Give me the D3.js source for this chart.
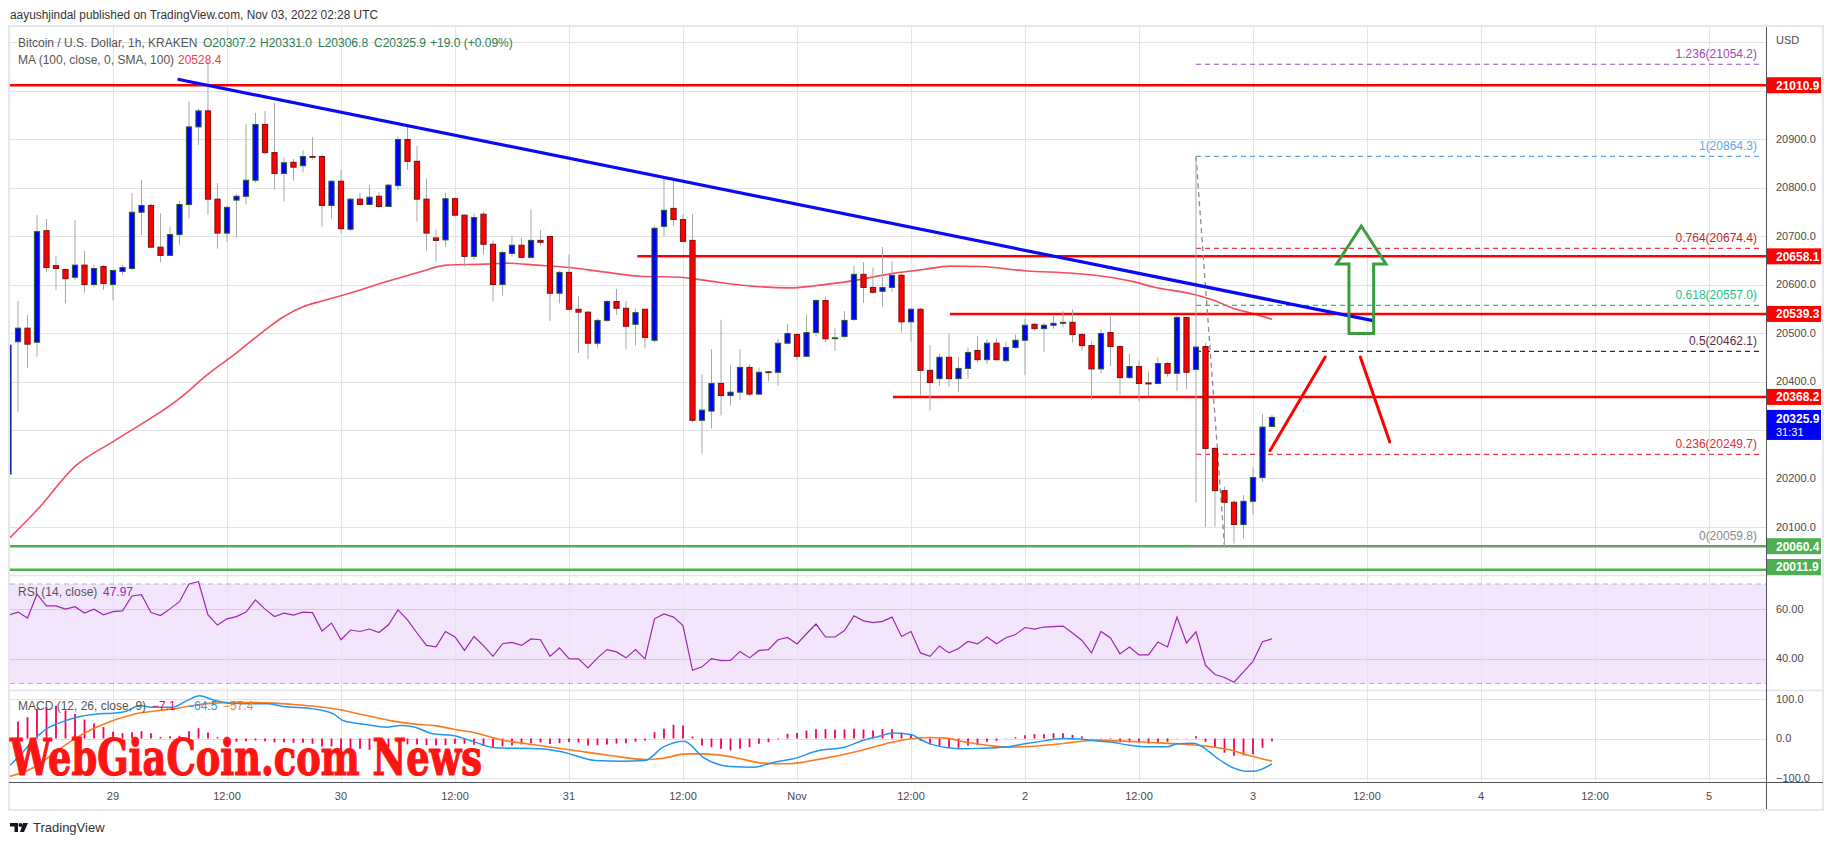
<!DOCTYPE html>
<html><head><meta charset="utf-8">
<script src="https://cdn.jsdelivr.net/npm/d3@7"></script>
<style>body{margin:0;background:#fff;} svg{display:block;font-family:'Liberation Sans',Arial,sans-serif;}</style>
</head><body><svg id="c" width="1834" height="845"></svg>
<script>
// ---------- DATA ----------
const opens = [
20209,20482,20510,20481,20711,20639,20631,20615,20640,20600,
20637,20600,20627,20633,20749,20763,20677,20660,20703,20765,
20925,20958,20776,20706,20774,20782,20815,20930,20872,20829,
20852,20845,20864,20864,20763,20813,20714,20776,20765,20782,
20761,20804,20899,20854,20776,20696,20692,20777,20743,20658,
20745,20683,20600,20664,20681,20656,20691,20699,20582,20625,
20549,20543,20479,20526,20565,20551,20518,20549,20485,20720,
20757,20734,20691,20320,20339,20396,20371,20378,20429,20374,
20420,20419,20479,20497,20452,20501,20567,20489,20493,20528,
20621,20594,20586,20594,20619,20523,20549,20423,20406,20450,
20406,20427,20464,20445,20479,20443,20470,20485,20518,20509,
20516,20520,20522,20497,20474,20426,20501,20472,20408,20431,
20397,20396,20437,20417,20532,20425,20472,20262,20175,20151,
20105,20153,20202,20307.2];
const highs = [
20482,20566,20537,20743,20735,20659,20633,20733,20669,20640,
20640,20629,20640,20789,20815,20767,20747,20719,20772,20978,
20963,21060,20809,20762,20787,20931,20954,20958,20975,20862,
20859,20877,20904,20869,20815,20836,20778,20789,20805,20791,
20808,20905,20929,20886,20819,20714,20789,20780,20745,20747,
20750,20690,20670,20700,20697,20755,20712,20700,20628,20662,
20576,20545,20530,20568,20591,20566,20550,20550,20721,20819,
20814,20745,20745,20415,20467,20527,20434,20467,20435,20429,
20422,20488,20519,20500,20538,20570,20574,20510,20545,20639,
20646,20635,20677,20648,20622,20552,20552,20475,20457,20499,
20451,20470,20494,20487,20489,20482,20497,20530,20521,20520,
20535,20545,20549,20500,20483,20508,20534,20475,20457,20443,
20421,20450,20440,20536,20534,20864.3,20480,20265,20183,20155,
20166,20223,20333,20331.0];
const lows = [
20195,20338,20428,20451,20625,20589,20561,20610,20583,20595,
20589,20567,20620,20630,20702,20675,20646,20658,20682,20736,
20888,20744,20674,20688,20697,20765,20810,20868,20796,20771,
20814,20831,20858,20719,20736,20705,20710,20762,20763,20758,
20760,20795,20836,20730,20670,20647,20678,20740,20637,20652,
20662,20565,20577,20657,20654,20654,20680,20525,20561,20548,
20459,20446,20470,20523,20537,20466,20474,20468,20480,20700,
20721,20687,20316,20251,20303,20330,20350,20362,20370,20372,
20400,20391,20477,20444,20450,20494,20481,20463,20490,20525,
20562,20580,20554,20585,20501,20482,20371,20340,20391,20389,
20378,20406,20440,20436,20443,20439,20468,20413,20505,20461,
20509,20512,20480,20464,20363,20417,20432,20372,20405,20360,
20370,20394,20410,20381,20384,20151,20100,20101,20059.8,20066,
20077,20125,20193,20306.8];
const closes = [
20475,20510,20477,20709,20635,20633,20612,20640,20600,20633,
20602,20629,20635,20749,20763,20677,20660,20703,20765,20925,
20958,20776,20706,20759,20782,20815,20930,20872,20829,20851,
20842,20864,20863,20763,20813,20715,20776,20765,20780,20761,
20805,20899,20854,20776,20706,20691,20777,20743,20658,20738,
20683,20600,20666,20681,20656,20691,20687,20582,20625,20549,
20543,20479,20526,20565,20551,20514,20542,20491,20716,20753,
20734,20689,20320,20341,20396,20371,20378,20429,20374,20419,
20419,20479,20499,20452,20501,20567,20488,20490,20526,20621,
20594,20584,20594,20619,20523,20549,20423,20398,20450,20406,
20427,20460,20445,20479,20445,20470,20485,20516,20509,20516,
20520,20522,20497,20474,20426,20499,20472,20408,20431,20396,
20395,20437,20417,20532,20419,20471,20262,20175,20151,20105,
20153,20202,20306,20325.9];

// MA(100) sampled along the curve: candle index -> value
const maIdx = [0,3,7,11,18,21,24,26.8,29,31,32.8,35.9,39.8,43.3,46.1,50.3,52.4,55.6,59.1,62.6,66.5,70.7,73.5,77,82.3,84.7,88.9,93.1,96.3,99.1,102.3,107.2,112.1,116.3,118.4,120.5,124.7,126.8,128.9,131,133];
const maVal = [20075,20135,20225,20276,20365,20415,20459,20503,20534,20554,20565,20582,20606,20626,20640,20642,20644,20640,20635,20626,20617,20615,20608,20599,20593,20597,20608,20623,20631,20638,20637,20628,20623,20614,20606,20595,20580,20568,20551,20540,20528.4];

const rsi = [
57.5,58.7,56.3,65.9,61.2,61.2,59.9,60.9,58.3,59.9,
57.6,58.9,59.2,65.2,65.7,58.5,57.3,60.0,62.9,70.0,
70.9,57.6,53.5,56.0,56.9,58.7,63.6,59.9,56.9,58.3,
57.5,58.7,58.5,51.1,54.3,47.6,51.5,50.9,51.9,50.5,
53.6,59.6,55.6,50.3,45.3,44.7,50.9,48.7,43.3,48.9,
45.2,40.9,46.0,46.5,45.3,47.9,47.6,40.9,44.3,40.0,
39.9,36.3,40.3,43.6,42.7,40.3,43.6,39.9,56.0,58.0,
56.7,53.3,35.3,36.7,40.0,39.2,39.3,42.9,40.3,43.3,
43.6,47.6,48.5,45.9,50.0,53.9,48.7,48.7,51.3,57.2,
55.2,54.5,55.0,56.7,48.9,50.9,42.3,40.9,45.1,42.3,
44.1,46.9,45.9,48.7,46.0,48.4,49.7,52.5,51.9,52.7,
52.9,53.1,50.3,47.3,42.3,50.9,48.3,41.9,44.7,41.5,
41.5,46.7,44.7,56.7,46.3,50.8,37.3,33.6,32.4,30.5,
34.7,38.9,46.8,47.97];

const macdIdx = [0.16,1.2,2.6,4,5.1,7.2,9.3,11,12.4,13.8,15.2,17.3,18.8,20.1,21.5,23.3,25.8,27.2,28.9,32.1,34.2,35.2,37.7,39.8,41.2,42.6,44.7,46.8,48.6,51.3,55.9,58.4,61.8,64.6,67,68.9,71.1,73.2,76,78.5,80.6,82.5,85.3,88,89.9,91.7,93.1,95.1,96,97,99,100,102,105,107,109,111,112.7,114,116,118,120,122,123,124.7,126,127,129,130.3,131.1,133];
const macdVal = [-68,-43,-5,24.5,37,54,62,64,69,83.5,79,79,96,108,98,89.5,87.8,87.8,81,75,62.4,45.6,35.4,28.7,33,30,11.8,7.6,-5,-23.6,-26,-34.6,-55.7,-57.4,-55.7,-22,-6.8,-49,-71,-72.6,-60,-52,-30.4,-22,-5,5.9,14.2,9.3,-2.5,-13.5,-23.6,-26,-25,-21.5,-13.5,-6,0,-1,-5,-9,-17,-21,-21,-13.5,-12,-26,-45.6,-75,-83,-83,-64.5];
const sigIdx = [0.16,2.6,4.7,6.8,8.9,11,13.1,15.2,17.3,19.5,21.5,23.7,26.1,27.9,30,32.4,34.9,37.7,40.5,42.6,45,47,48.6,52.2,55.9,59.6,63.3,67,68.9,71.4,73.2,76.3,79.4,81.9,85.6,89.3,91.7,93,95,97,98.7,100.8,103.2,105.2,107.6,110,112.5,114.5,116.6,119,121.5,124.6,126.4,128.5,130.6,133];
const sigVal = [-96,-74,-39,-3.4,24.5,45.6,61,69,75,83.5,89.5,91,91,89.5,86,81,72.6,58,44,37,32,23,17,-5,-17.7,-30.4,-43,-53,-49.8,-38.8,-38.8,-47.3,-62.4,-64,-51.5,-33,-17.7,-9.3,-0.8,2.5,0.9,-9.3,-17.7,-21.9,-20.3,-15.2,-8.4,-4.2,-5.9,-8.4,-11.8,-16,-20.3,-28.7,-43,-57.4];
const hist = [
25,43,54,75,79,83,71,62,48,38,
29,17,13.5,16,18.6,13.5,4.2,5.9,6.8,18.6,
26,15.2,3.4,-1.7,-8.4,-6.8,-5,-6.8,-10,-9.3,
-11,-11,-13.5,-20,-20,-30,-28.7,-26,-28.7,-26,
-22,-9.3,-15,-15,-17,-17,-17,-13.5,-13.5,-16,
-19,-22,-20,-18,-15,-12,-10,-14,-12,-9,
-10,-18,-17,-15,-13,-12,-8,-5,16,24.5,
34.6,33,5,-17.7,-22,-26,-30,-26,-22,-13.5,
-9.3,-1.7,12,14,20,23.6,23.6,22,22.8,24.5,
22.8,20,23.6,23.6,15.2,10,-6,-15,-18.6,-22.8,
-23.6,-17.7,-16,-8.4,-5.9,-0.8,3.4,8.4,11,11,
13.5,13.5,9.3,5,0.8,0.8,1.7,-9.3,-10,-11,
-12.7,-11,-8.4,0.8,-0.8,5.9,-8.4,-22.8,-36,-43.9,
-43,-39.7,-23.6,-7.1];

// time axis (candle index of each tick; candle 0 = Oct 28 13:00 UTC)
const timeTickIdx = [11,23,35,47,59,71,83,95,107,119,131,143,155,167,179];
const timeTickLabels = ["29","12:00","30","12:00","31","12:00","Nov","12:00","2","12:00","3","12:00","4","12:00","5"];

// drawn levels
const redLevels = [21010.9, 20658.1, 20539.3, 20368.2];
const redLevelStart = [null, 66.2, 99.1, 93.1];
const greenLevels = [20060.4, 20011.9];
const lastPrice = 20325.9, countdown = "31:31";
const fibRatios = ["1.236","1","0.764","0.618","0.5","0.236","0"];
const fibPrices = [21054.2, 20864.3, 20674.4, 20557.0, 20462.1, 20249.7, 20059.8];
const fibFrom = {i:125, p:20864.3}, fibTo = {i:128, p:20059.8};
const trendLine = [{i:17.95, p:21022.8}, {i:143.5, p:20526}];
const redArrows = [[{i:132.8,p:20257.6},{i:138.6,p:20450.6}], [{i:142.3,p:20450.6},{i:145.4,p:20275.3}]];
const greenArrow = {i:142.4, tip:20720.7, headBase:20642.3, bottom:20499, headHalf:2.6, shaftHalf:1.3};
const rsiTicks = [60, 40];
const macdTicks = [100, 0, -100];

// ---------- LAYOUT ----------
const L = 10, R = 1766, mainTop = 27, mainBot = 575, rsiBot = 690, macdBot = 782, axisBot = 809;
const svg = d3.select("#c");
const x = d3.scaleLinear().domain([0.158, 185]).range([L, R]);
const y = d3.scaleLinear().domain([20001, 21131]).range([mainBot, mainTop]);
const yR = d3.scaleLinear().domain([30, 70]).range([683.5, 584]);
const yM = d3.scaleLinear().domain([-100, 100]).range([778, 699]);
const gridC = "#e2e2e2", textC = "#4a4a4a";

const defs = svg.append("defs");
[["cMain", mainTop, mainBot], ["cRsi", mainBot, rsiBot], ["cMacd", rsiBot, macdBot]].forEach(([id, t, b]) => {
  defs.append("clipPath").attr("id", id).append("rect").attr("x", L).attr("y", t).attr("width", R - L).attr("height", b - t);
});

// RSI band
svg.append("rect").attr("x", L).attr("y", yR(70)).attr("width", R - L).attr("height", yR(30) - yR(70)).attr("fill", "#f3e6fc");

// grid
const grid = svg.append("g").attr("stroke", gridC).attr("stroke-width", 1).attr("shape-rendering", "crispEdges");
y.ticks(11).forEach(v => grid.append("line").attr("x1", L).attr("x2", R).attr("y1", Math.round(y(v)) + 0.5).attr("y2", Math.round(y(v)) + 0.5));
rsiTicks.forEach(v => grid.append("line").attr("x1", L).attr("x2", R).attr("y1", Math.round(yR(v)) + 0.5).attr("y2", Math.round(yR(v)) + 0.5).attr("stroke", "#d6c9e3"));
macdTicks.forEach(v => grid.append("line").attr("x1", L).attr("x2", R).attr("y1", Math.round(yM(v)) + 0.5).attr("y2", Math.round(yM(v)) + 0.5));
timeTickIdx.forEach(i => grid.append("line").attr("x1", Math.round(x(i)) + 0.5).attr("x2", Math.round(x(i)) + 0.5).attr("y1", mainTop).attr("y2", macdBot).attr("stroke-opacity", 0.9));

// RSI dashed bounds
[70, 30].forEach(v => svg.append("line").attr("x1", L).attr("x2", R).attr("y1", yR(v)).attr("y2", yR(v)).attr("stroke", "#b0b0b8").attr("stroke-dasharray", "5,4"));

// pane separators & frame
svg.append("rect").attr("x", 9).attr("y", 26).attr("width", 1814).attr("height", 784).attr("fill", "none").attr("stroke", "#e6e7ec").attr("stroke-width", 2);
[mainBot, rsiBot].forEach(v => svg.append("line").attr("x1", 9).attr("x2", 1823).attr("y1", v + 0.5).attr("y2", v + 0.5).attr("stroke", "#e0e3eb").attr("stroke-width", 1.5));

// ---------- MAIN PANE ----------
const gM = svg.append("g").attr("clip-path", "url(#cMain)");
// MA
gM.append("path").datum(maIdx.map((d, k) => [d, maVal[k]]))
  .attr("d", d3.line().x(d => x(d[0])).y(d => y(d[1])).curve(d3.curveMonotoneX))
  .attr("fill", "none").attr("stroke", "#f23a4c").attr("stroke-width", 1.6).attr("stroke-opacity", 0.9);

// horizontal levels
redLevels.forEach((p, k) => {
  gM.append("line").attr("x1", redLevelStart[k] == null ? L : x(redLevelStart[k])).attr("x2", R)
    .attr("y1", y(p)).attr("y2", y(p)).attr("stroke", "#ff0000").attr("stroke-width", 2.5);
});
greenLevels.forEach(p => gM.append("line").attr("x1", L).attr("x2", R).attr("y1", y(p)).attr("y2", y(p)).attr("stroke", "#4caf50").attr("stroke-width", 2.5));

// fib levels
const fibColors = ["#a347ba", "#5ba9dc", "#f23645", "#26be8c", "#4e1a33", "#f23645", "#8a8a8a"];
const fibTextColors = ["#a347ba", "#5ba9dc", "#c2272d", "#26be8c", "#5d2a40", "#d83038", "#8a8a8a"];
fibPrices.forEach((p, k) => {
  gM.append("line").attr("x1", x(fibFrom.i)).attr("x2", 1763).attr("y1", y(p)).attr("y2", y(p))
    .attr("stroke", fibColors[k]).attr("stroke-width", 1.2).attr("stroke-dasharray", "5,4");
  gM.append("text").attr("x", 1757).attr("y", y(p) - 6).attr("text-anchor", "end").attr("font-size", 12)
    .attr("fill", fibTextColors[k]).text(fibRatios[k] + "(" + p.toFixed(1) + ")");
});
gM.append("line").attr("x1", x(fibFrom.i)).attr("y1", y(fibFrom.p)).attr("x2", x(fibTo.i)).attr("y2", y(fibTo.p))
  .attr("stroke", "#8a8a8a").attr("stroke-width", 1.3).attr("stroke-dasharray", "5,4");

// candles
const cg = gM.append("g");
closes.forEach((c, i) => {
  const o = opens[i], up = c >= o, cx = x(i);
  cg.append("line").attr("x1", cx).attr("x2", cx).attr("y1", y(highs[i])).attr("y2", y(lows[i])).attr("stroke", "#a8a8a8").attr("stroke-width", 1);
  const top = y(Math.max(o, c)), bot = y(Math.min(o, c));
  cg.append("rect").attr("x", cx - 2.6).attr("width", 5.2).attr("y", top).attr("height", Math.max(0.8, bot - top))
    .attr("fill", up ? "#0000ff" : "#ff0000").attr("stroke", up ? "#2b5e2b" : "#7a1010").attr("stroke-width", 1);
});

// trend line
gM.append("line").attr("x1", x(trendLine[0].i)).attr("y1", y(trendLine[0].p)).attr("x2", x(trendLine[1].i)).attr("y2", y(trendLine[1].p))
  .attr("stroke", "#0a0af5").attr("stroke-width", 3.2).attr("stroke-linecap", "round");

// red arrow strokes
redArrows.forEach(a => gM.append("line").attr("x1", x(a[0].i)).attr("y1", y(a[0].p)).attr("x2", x(a[1].i)).attr("y2", y(a[1].p))
  .attr("stroke", "#ff0000").attr("stroke-width", 3).attr("stroke-linecap", "round"));

// green hollow up-arrow
const ga = greenArrow;
const gpts = [[ga.i, ga.tip], [ga.i + ga.headHalf, ga.headBase], [ga.i + ga.shaftHalf, ga.headBase], [ga.i + ga.shaftHalf, ga.bottom],
  [ga.i - ga.shaftHalf, ga.bottom], [ga.i - ga.shaftHalf, ga.headBase], [ga.i - ga.headHalf, ga.headBase]];
gM.append("path").attr("d", "M" + gpts.map(p => x(p[0]) + "," + y(p[1])).join("L") + "Z")
  .attr("fill", "none").attr("stroke", "#3a9d40").attr("stroke-width", 3).attr("stroke-linejoin", "miter");

// ---------- RSI PANE ----------
const gR = svg.append("g").attr("clip-path", "url(#cRsi)");
gR.append("path").datum(rsi).attr("d", d3.line().x((d, i) => x(i)).y(d => yR(d)))
  .attr("fill", "none").attr("stroke", "#9c27b0").attr("stroke-width", 1.2);

// ---------- MACD PANE ----------
const gD = svg.append("g").attr("clip-path", "url(#cMacd)");
hist.forEach((h, i) => gD.append("line").attr("x1", x(i)).attr("x2", x(i)).attr("y1", yM(0)).attr("y2", yM(h))
  .attr("stroke", "#f50057").attr("stroke-width", 1.8));
gD.append("path").datum(sigIdx.map((d, k) => [d, sigVal[k]]))
  .attr("d", d3.line().x(d => x(d[0])).y(d => yM(d[1])).curve(d3.curveMonotoneX))
  .attr("fill", "none").attr("stroke", "#ff7a1a").attr("stroke-width", 1.6);
gD.append("path").datum(macdIdx.map((d, k) => [d, macdVal[k]]))
  .attr("d", d3.line().x(d => x(d[0])).y(d => yM(d[1])).curve(d3.curveMonotoneX))
  .attr("fill", "none").attr("stroke", "#2196f3").attr("stroke-width", 1.5);

// ---------- AXES ----------
svg.append("line").attr("x1", R + 0.5).attr("x2", R + 0.5).attr("y1", 27).attr("y2", axisBot).attr("stroke", "#50535e");
svg.append("line").attr("x1", 9).attr("x2", 1823).attr("y1", macdBot + 0.5).attr("y2", macdBot + 0.5).attr("stroke", "#50535e");

const ax = svg.append("g").attr("font-size", 11).attr("fill", textC);
ax.append("text").attr("x", 1776).attr("y", 40).attr("dy", "0.35em").text("USD");
const boxYs = redLevels.concat(greenLevels).map(p => y(p));
const lastTop = y(lastPrice) - 7.5;
y.ticks(11).forEach(v => {
  const yy = y(v);
  if (yy < 52 || yy > mainBot - 6) return;
  if (boxYs.some(b => Math.abs(b - yy) < 13)) return;
  if (yy > lastTop - 7 && yy < lastTop + 37) return;
  ax.append("text").attr("x", 1776).attr("y", yy).attr("dy", "0.35em").text(v.toFixed(1));
});
rsiTicks.forEach(v => ax.append("text").attr("x", 1776).attr("y", yR(v)).attr("dy", "0.35em").text(v.toFixed(2)));
macdTicks.forEach(v => ax.append("text").attr("x", 1776).attr("y", yM(v)).attr("dy", "0.35em").text((v < 0 ? "\u2212" : "") + Math.abs(v).toFixed(1)));
timeTickIdx.forEach((i, k) => ax.append("text").attr("x", x(i)).attr("y", 796).attr("dy", "0.35em").attr("text-anchor", "middle").text(timeTickLabels[k]));

function priceBox(p, color) {
  let top = y(p) - 8;
  top = Math.min(top, mainBot - 16);
  svg.append("rect").attr("x", R + 1).attr("y", top).attr("width", 54).attr("height", 16).attr("fill", color);
  svg.append("text").attr("x", 1776).attr("y", top + 8).attr("dy", "0.36em").attr("font-size", 12).attr("font-weight", "bold").attr("fill", "#fff").text(p.toFixed(1));
}
redLevels.forEach(p => priceBox(p, "#ff0000"));
greenLevels.forEach(p => priceBox(p, "#4caf50"));
svg.append("rect").attr("x", R + 1).attr("y", lastTop).attr("width", 54).attr("height", 30).attr("fill", "#0000ff");
svg.append("text").attr("x", 1776).attr("y", lastTop + 8.5).attr("dy", "0.36em").attr("font-size", 12).attr("font-weight", "bold").attr("fill", "#fff").text(lastPrice.toFixed(1));
svg.append("text").attr("x", 1776).attr("y", lastTop + 22).attr("dy", "0.36em").attr("font-size", 11).attr("fill", "#fff").text(countdown);

// ---------- LEGENDS ----------
svg.append("text").attr("x", 10).attr("y", 19).attr("font-size", 12.5).attr("fill", "#333").attr("textLength", 368).attr("lengthAdjust", "spacingAndGlyphs")
  .text("aayushjindal published on TradingView.com, Nov 03, 2022 02:28 UTC");
const lg = svg.append("g").attr("font-size", 12);
const gray = "#555", grn = "#2e7d4f";
[["Bitcoin / U.S. Dollar, 1h, KRAKEN", 18, gray], ["O20307.2", 203, grn], ["H20331.0", 260, grn], ["L20306.8", 318, grn], ["C20325.9", 374, grn], ["+19.0 (+0.09%)", 430, grn]]
  .forEach(([t, xx, c]) => lg.append("text").attr("x", xx).attr("y", 47).attr("fill", c).text(t));
lg.append("text").attr("x", 18).attr("y", 64).attr("fill", gray).text("MA (100, close, 0, SMA, 100)");
lg.append("text").attr("x", 178).attr("y", 64).attr("fill", "#f23645").text("20528.4");
lg.append("text").attr("x", 18).attr("y", 596).attr("fill", gray).text("RSI (14, close)");
lg.append("text").attr("x", 103).attr("y", 596).attr("fill", "#9c27b0").text("47.97");
lg.append("text").attr("x", 18).attr("y", 710).attr("fill", gray).text("MACD (12, 26, close, 9)");
lg.append("text").attr("x", 152).attr("y", 710).attr("fill", "#f50057").text("\u22127.1");
lg.append("text").attr("x", 187).attr("y", 710).attr("fill", "#2196f3").text("\u221264.5");
lg.append("text").attr("x", 223).attr("y", 710).attr("fill", "#ff7a1a").text("\u221257.4");

// watermark
svg.append("text").attr("x", 10).attr("y", 775).attr("font-family", "'DejaVu Serif Condensed','DejaVu Serif',serif").attr("font-weight", "bold")
  .attr("font-size", 50).attr("fill", "#ff1414").attr("stroke", "#ff1414").attr("stroke-width", 1.2)
  .attr("textLength", 472).attr("lengthAdjust", "spacingAndGlyphs").text("WebGiaCoin.com News");

// TradingView footer
const ft = svg.append("g");
ft.append("path").attr("d", "M10,823 h8 v9 h-3.5 v-5.5 h-4.5 Z").attr("fill", "#131722");
ft.append("circle").attr("cx", 20.5).attr("cy", 825).attr("r", 2).attr("fill", "#131722");
ft.append("path").attr("d", "M23,823 h5 l-4,9 h-4 Z").attr("fill", "#131722");
ft.append("text").attr("x", 33).attr("y", 832).attr("font-size", 13).attr("fill", "#333").text("TradingView");
</script></body></html>
